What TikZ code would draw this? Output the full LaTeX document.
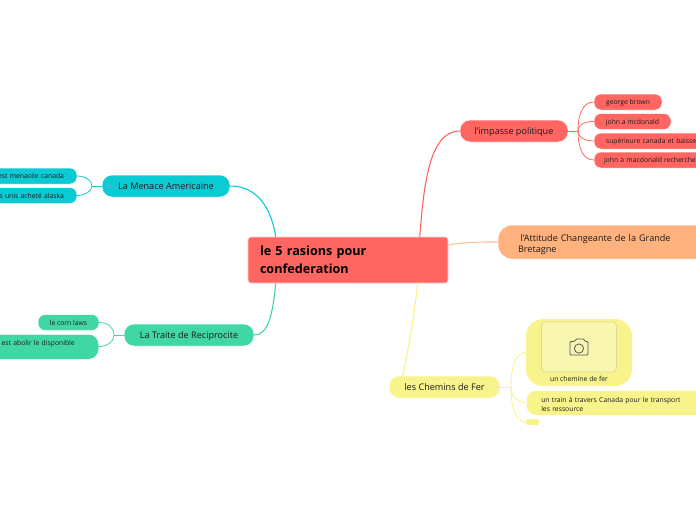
\documentclass[tikz,border=0pt]{standalone}
\usepackage{fontspec}
\setmainfont{Open Sans}
\definecolor{cred}{HTML}{FF6661}
\definecolor{cteal}{HTML}{0ACBD4}
\definecolor{cgreen}{HTML}{41D7A5}
\definecolor{corange}{HTML}{FFB27E}
\definecolor{cyel}{HTML}{F9F38B}
\definecolor{cpan}{HTML}{F9F6B0}
\definecolor{ink}{HTML}{1A1A1A}
\tikzset{
 box/.style={rectangle,inner sep=0pt,text=ink,align=center},
 main/.style={box,font=\fontsize{9.1}{12}\selectfont,rounded corners=10pt,draw=white,line width=.5pt,text depth=0pt},
 sub/.style={box,font=\fontsize{6.8}{11}\selectfont,rounded corners=7pt,draw=white,line width=.5pt,text depth=0pt},
 link/.style={line width=1.1pt},
 tiny/.style={line width=.8pt},
}
\begin{document}
\begin{tikzpicture}[x=1pt,y=-1pt]
\path[use as bounding box,clip] (0,0) rectangle (696,520);
\fill[white] (0,0) rectangle (696,520);
% central
\node[box,fill=cred,draw=white!70!cred,line width=.6pt,rounded corners=3pt,minimum width=200pt,minimum height=46pt,text width=176pt,align=left,font=\fontsize{12.6}{18}\selectfont\bfseries,text=black] (cen) at (348,260) {le 5 rasions pour\\confederation};
% main topics
\node[main,fill=cteal,minimum width=128pt,minimum height=22pt] (men) at (166,186) {La Menace Americaine};
\node[main,fill=cgreen,minimum width=130pt,minimum height=22pt] (tra) at (189,335) {La Traite de Reciprocite};
\node[main,fill=cred,minimum width=108pt,minimum height=22pt] (imp) at (514,131) {l'impasse politique};
\node[main,fill=corange,rounded corners=14pt,minimum width=222pt,minimum height=34pt,text width=182pt,align=left,font=\fontsize{9.1}{11.5}\selectfont,text depth=8pt] (att) at (609,242) {\hspace*{2.7pt}l'Attitude Changeante de la Grande\\Bretagne};
\node[main,fill=cyel,minimum width=111pt,minimum height=22pt] (che) at (444.5,387) {les Chemins de Fer};
% subtopics left
\node[sub,fill=cteal,minimum width=137pt,minimum height=16pt,text width=111pt,align=right] (m1) at (8.5,176) {est menacée canada};
\node[sub,fill=cteal,minimum width=137pt,minimum height=16pt,text width=111pt,align=right] (m2) at (8.5,195.5) {s unis acheté alaska};
\node[sub,fill=cgreen,minimum width=61pt,minimum height=16pt] (t1) at (68.5,322.5) {le corn laws};
\node[sub,fill=cgreen,rounded corners=10pt,minimum width=139pt,minimum height=25pt,text width=91pt,align=right,anchor=north east,text height=5pt,text depth=8pt] (t2) at (99,334) {est abolir le disponible};
% subtopics right
\node[sub,fill=cred,minimum width=68pt,minimum height=16pt] (i1) at (628,102) {george brown};
\node[sub,fill=cred,minimum width=77pt,minimum height=16pt] (i2) at (632.5,121.5) {john a mcdonald};
\node[sub,fill=cred,minimum width=130pt,minimum height=16pt,text width=110pt,align=left] (i3) at (659,141) {\hspace*{2pt}supérieure canada et baisse};
\node[sub,fill=cred,minimum width=130pt,minimum height=16pt,text width=110pt,align=left] (i4) at (659,160) {john a macdonald recherche};
% railway
\node[box,fill=cyel,rounded corners=17pt,minimum width=106pt,minimum height=67pt] (c1) at (579,352.5) {};
\node[box,fill=cpan,draw=black!12!cpan,line width=.7pt,rounded corners=4pt,minimum width=75pt,minimum height=50pt] (pic) at (579,347) {};
\node[box,font=\fontsize{6.8}{9}\selectfont] (cap) at (579,378.5) {un chemine de fer};
\node[sub,fill=cyel,rounded corners=10pt,minimum width=180pt,minimum height=25pt,text width=150pt,align=left,anchor=north west,font=\fontsize{6.8}{9}\selectfont,text depth=6.5pt] (c2) at (526,390) {un train à travers Canada pour le transport\\les ressource};
\node[box,fill=cyel,rounded corners=1.5pt,minimum width=13pt,minimum height=6pt] (c3) at (532.5,422) {};
% camera icon
\coordinate (cam) at (pic.center);
\draw[black!65,line width=.8pt,line join=round,rounded corners=1pt]
 ([shift={(-9,-5.5)}]cam) -- ([shift={(-4.5,-5.5)}]cam) -- ([shift={(-3,-8)}]cam) -- ([shift={(5,-8)}]cam) -- ([shift={(6,-5.5)}]cam) -- ([shift={(9,-5.5)}]cam) -- ([shift={(9,8)}]cam) -- ([shift={(-9,8)}]cam) -- cycle;
\draw[black!65,line width=.8pt] (cam) ++(0,1.5) circle[radius=4.6];
% connectors from centre
\draw[link,cteal] ([xshift=28pt]cen.north west) .. controls +(-5,-32) and (255,186) .. (men.east);
\draw[link,cgreen] ([xshift=28pt]cen.south west) .. controls +(-3,32) and (268,335) .. (tra.east);
\draw[link,cred] ([xshift=172pt]cen.north west) .. controls +(4,-47) and (428,131) .. (imp.west);
\draw[link,corange!80!white] ([yshift=15pt]cen.east) .. controls +(18,-3) and (475,242) .. (att.west);
\draw[link,cyel] ([xshift=170pt]cen.south west) .. controls +(-4,37) and (408,350) .. ([xshift=14pt]che.north west);
% branches
\coordinate (mj) at (92,186);
\draw[tiny,cteal] (men.west) -- (mj);
\draw[tiny,cteal] (mj) .. controls (92,180) and (85,176) .. (m1.east);
\draw[tiny,cteal] (mj) .. controls (92,191) and (85,195.5) .. (m2.east);
\coordinate (tj) at (114,335);
\draw[tiny,cgreen] (tra.west) -- (tj);
\draw[tiny,cgreen] (tj) .. controls (114,327) and (107,322.5) .. (t1.east);
\draw[tiny,cgreen] (tj) .. controls (114,342) and (107,346) .. (t2.east);
\coordinate (ij) at (578,131);
\draw[tiny,cred] (imp.east) -- (ij);
\draw[tiny,cred] (ij) .. controls (578,112) and (584,102) .. (i1.west);
\draw[tiny,cred] (ij) .. controls (578,125) and (584,121.5) .. (i2.west);
\draw[tiny,cred] (ij) .. controls (578,137) and (584,141) .. (i3.west);
\draw[tiny,cred] (ij) .. controls (578,150) and (584,160) .. (i4.west);
\coordinate (cj) at (511,387);
\draw[tiny,cyel] (che.east) -- (cj);
\draw[tiny,cyel] (cj) .. controls (511,365) and (516,352) .. (c1.west);
\draw[tiny,cyel] (cj) .. controls (511,396) and (517,402.5) .. (c2.west);
\draw[tiny,cyel] (cj) .. controls (511,408) and (516,422) .. (c3.west);
\end{tikzpicture}
\end{document}
